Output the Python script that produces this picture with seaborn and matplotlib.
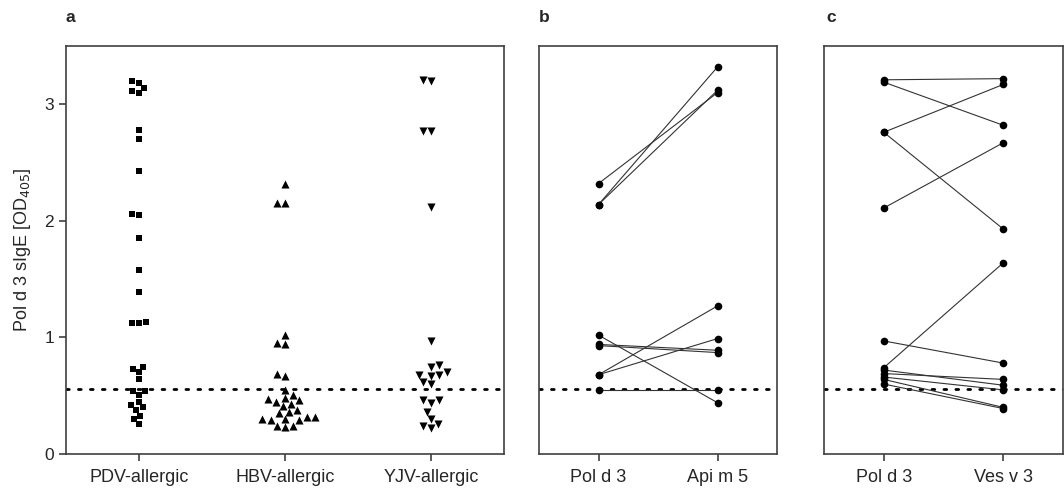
import matplotlib
matplotlib.use('Agg')
import matplotlib.pyplot as plt
import pandas as pd
import seaborn as sns

# Panel a: Pol d 3 sIgE per patient group
pdv_values = [3.20, 3.18, 3.14, 3.11, 3.10, 2.78, 2.70, 2.43, 2.06, 2.05,
              1.85, 1.58, 1.39, 1.13, 1.12, 1.12, 0.75, 0.73, 0.70, 0.64,
              0.54, 0.54, 0.51, 0.45, 0.42, 0.40, 0.38, 0.33, 0.30, 0.26]
hbv_values = [2.32, 2.15, 2.15, 1.02, 0.95, 0.94, 0.69, 0.67, 0.55, 0.51,
              0.48, 0.47, 0.46, 0.45, 0.43, 0.41, 0.38, 0.36, 0.35, 0.32,
              0.32, 0.30, 0.30, 0.29, 0.29, 0.24, 0.24, 0.23]
yjv_values = [3.21, 3.20, 2.77, 2.77, 2.12, 0.97, 0.76, 0.75, 0.70, 0.68,
              0.68, 0.67, 0.62, 0.60, 0.46, 0.46, 0.44, 0.36, 0.30, 0.26,
              0.24, 0.22]
groups = ['PDV-allergic', 'HBV-allergic', 'YJV-allergic']
group_markers = ['s', '^', 'v']

# Panel b: paired Pol d 3 vs Api m 5
b_labels = ['Pol d 3', 'Api m 5']
b_pold3 = [2.32, 2.14, 2.14, 1.02, 0.94, 0.93, 0.68, 0.68, 0.55]
b_apim5 = [3.10, 3.32, 3.12, 0.44, 0.89, 0.87, 1.27, 0.99, 0.55]

# Panel c: paired Pol d 3 vs Ves v 3
c_labels = ['Pol d 3', 'Ves v 3']
c_pold3 = [3.21, 3.19, 2.76, 2.76, 2.11, 0.97, 0.74, 0.72, 0.69, 0.66, 0.64, 0.60]
c_vesv3 = [3.22, 2.82, 3.17, 1.93, 2.67, 0.78, 1.64, 0.59, 0.64, 0.55, 0.40, 0.39]

cutoff = 0.556

sns.set_style('ticks')
plt.rcParams['font.family'] = ['Liberation Sans', 'DejaVu Sans']
plt.rcParams['axes.edgecolor'] = '#404040'
plt.rcParams['axes.linewidth'] = 1.2

fig = plt.figure(figsize=(10.64, 4.88), dpi=100)
ax_a = fig.add_axes([66 / 1064, 34 / 488, 438 / 1064, 408 / 488])
ax_b = fig.add_axes([539 / 1064, 34 / 488, 238 / 1064, 408 / 488])
ax_c = fig.add_axes([824 / 1064, 34 / 488, 239 / 1064, 408 / 488])

# swarm panel
df_a = pd.DataFrame({
    'group': ['PDV-allergic'] * len(pdv_values) + ['HBV-allergic'] * len(hbv_values)
             + ['YJV-allergic'] * len(yjv_values),
    'value': pdv_values + hbv_values + yjv_values})
for g, m in zip(groups, group_markers):
    sns.swarmplot(data=df_a[df_a['group'] == g], x='group', y='value', order=groups,
                  marker=m, color='black', size=5 if m == 's' else 5.8, ax=ax_a)
ax_a.set_xlim(-0.5, 2.5)
ax_a.set_xlabel('')
ax_a.set_ylabel('Pol d 3 sIgE [OD$_{405}$]', fontsize=13, labelpad=8)
ax_a.set_yticks([0, 1, 2, 3])


def paired_panel(ax, labels, left, right):
    df_p = pd.DataFrame({
        'pair': list(range(len(left))) * 2,
        'pos': [0] * len(left) + [1] * len(right),
        'value': left + right})
    sns.lineplot(data=df_p, x='pos', y='value', units='pair', estimator=None,
                 color='#333333', linewidth=0.8, marker='o', markersize=5.5,
                 markeredgewidth=0, markerfacecolor='black', ax=ax)
    ax.set_xlim(-0.5, 1.5)
    ax.set_xticks([0, 1])
    ax.set_xticklabels(labels)
    ax.set_xlabel('')
    ax.set_ylabel('')
    ax.set_yticks([])


paired_panel(ax_b, b_labels, b_pold3, b_apim5)
paired_panel(ax_c, c_labels, c_pold3, c_vesv3)

for ax in (ax_a, ax_b, ax_c):
    ax.set_ylim(0, 3.5)
    ax.axhline(cutoff, color='black', linestyle=(0, (1, 3.3)), linewidth=2,
               dash_capstyle='round', zorder=0)
    for s in ax.spines.values():
        s.set_visible(True)
    ax.tick_params(axis='x', length=5, width=1.2, color='#404040', labelsize=13, pad=6)
    ax.tick_params(axis='y', length=5, width=1.2, color='#404040', labelsize=12.5)

for x, lab in [(66, 'a'), (539, 'b'), (826, 'c')]:
    fig.text(x / 1064, 1 - 18 / 488, lab, fontsize=12.5, fontweight='bold', va='center')

fig.savefig('out.png', dpi=100)
